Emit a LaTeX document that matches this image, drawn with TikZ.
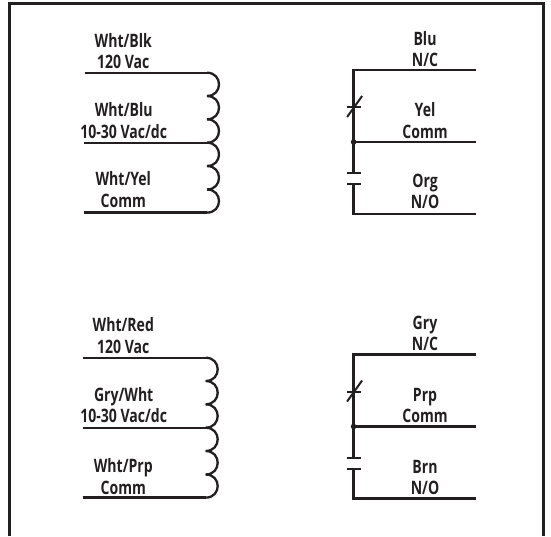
\documentclass[tikz,border=0pt]{standalone}
\usepackage{fontspec}
\setmainfont[FakeStretch=0.76]{Open Sans}
\usepackage{tikz}
\usetikzlibrary{calc}

\definecolor{wirecol}{HTML}{231F20}

\tikzset{
    wire/.style={line width=2.3pt,draw=wirecol},
    tick/.style={line width=2pt,draw=wirecol},
    wirelabel/.style={anchor=base,align=center,inner sep=0pt,text=wirecol,
        font=\fontsize{18.5}{21.5}\selectfont\bfseries},
}

\begin{document}
\begin{tikzpicture}[x=1pt,y=-1pt]
    \useasboundingbox (0,0) rectangle (551,536);

    % Outer frame, open at the bottom
    \coordinate (F0) at (9.3,536);
    \coordinate (F1) at (9.3,3.6);
    \coordinate (F2) at (543.6,3.6);
    \coordinate (F3) at (543.6,536);
    \draw[line width=3pt,draw=wirecol] (F0) -- (F1) -- (F2) -- (F3);

    % Both relay groups: name / coil shift x / coil shift y / contact shift y
    \foreach \g/\dx/\dy/\dz in {A/0/0/0,B/-1.3/285/284.5}{
        % Coil points
        \coordinate (\g C0) at (207+\dx,72.7+\dy);
        \coordinate (\g C1) at (207+\dx,96+\dy);
        \coordinate (\g C2) at (207+\dx,119.3+\dy);
        \coordinate (\g C3) at (207+\dx,142.7+\dy);
        \coordinate (\g C4) at (207+\dx,166+\dy);
        \coordinate (\g C5) at (207+\dx,189.5+\dy);
        \coordinate (\g C6) at (207+\dx,212.6+\dy);
        \coordinate (\g L0) at (84.5+\dx,72.7+\dy);
        \coordinate (\g L3) at (84+\dx,142.7+\dy);
        \coordinate (\g L6) at (84+\dx,212.6+\dy);

        % Coil wires
        \draw[wire] (\g L0) -- (\g C0);
        \draw[wire] (\g L3) -- (\g C3);
        \draw[wire] (\g L6) -- (\g C6);

        % Coil bumps
        \foreach \s/\e in {0/1,1/2,2/3,3/4,4/5,5/6}{
            \draw[wire] (\g C\s) .. controls +(16,0) and +(16,0) .. (\g C\e);
        }

        % Contact points
        \coordinate (\g NC) at (353.6,70+\dz);
        \coordinate (\g NCe) at (476,70+\dz);
        \coordinate (\g CM) at (353.6,142+\dz);
        \coordinate (\g CMe) at (476,142+\dz);
        \coordinate (\g NO) at (353.6,214+\dz);
        \coordinate (\g NOe) at (476,214+\dz);
        \coordinate (\g P1) at (353.6,173+\dz);
        \coordinate (\g P2) at (353.6,184+\dz);

        % Contact wires
        \draw[wire] (\g NCe) -- (\g NC) -- (\g CM) -- (\g P1);
        \draw[wire] (\g CM) -- (\g CMe);
        \draw[wire] (\g P2) -- (\g NO) -- (\g NOe);
        \fill[wirecol] (\g CM) circle (2.8pt);

        % Normally closed mark
        \draw[tick] ($(\g NC)+(-7,37)$) -- ($(\g NC)+(7.5,37)$);
        \draw[tick] ($(\g NC)+(-6.5,47)$) -- ($(\g NC)+(8.5,26)$);

        % Normally open plates
        \draw[tick] ($(\g P1)+(-7,0)$) -- ($(\g P1)+(7.5,0)$);
        \draw[tick] ($(\g P2)+(-7,0)$) -- ($(\g P2)+(7.5,0)$);
    }

    % Upper labels
    \node[wirelabel] (blk) at (123.3,68.7) {Wht/Blk\\120 Vac};
    \node[wirelabel] (blu) at (123.7,138.2) {Wht/Blu\\10-30 Vac/dc};
    \node[wirelabel] (yel) at (123.3,207.2) {Wht/Yel\\Comm};
    \node[wirelabel] (nca) at (425,66.5) {Blu\\N/C};
    \node[wirelabel] (cma) at (425,138.2) {Yel\\Comm};
    \node[wirelabel] (noa) at (425,208.5) {Org\\N/O};

    % Lower labels
    \node[wirelabel] (red) at (123.3,353.2) {Wht/Red\\120 Vac};
    \node[wirelabel] (gry) at (123.7,422.8) {Gry/Wht\\10-30 Vac/dc};
    \node[wirelabel] (prp) at (123.3,494.2) {Wht/Prp\\Comm};
    \node[wirelabel] (ncb) at (425,350.5) {Gry\\N/C};
    \node[wirelabel] (cmb) at (425,422.8) {Prp\\Comm};
    \node[wirelabel] (nob) at (425,494.5) {Brn\\N/O};
\end{tikzpicture}
\end{document}
